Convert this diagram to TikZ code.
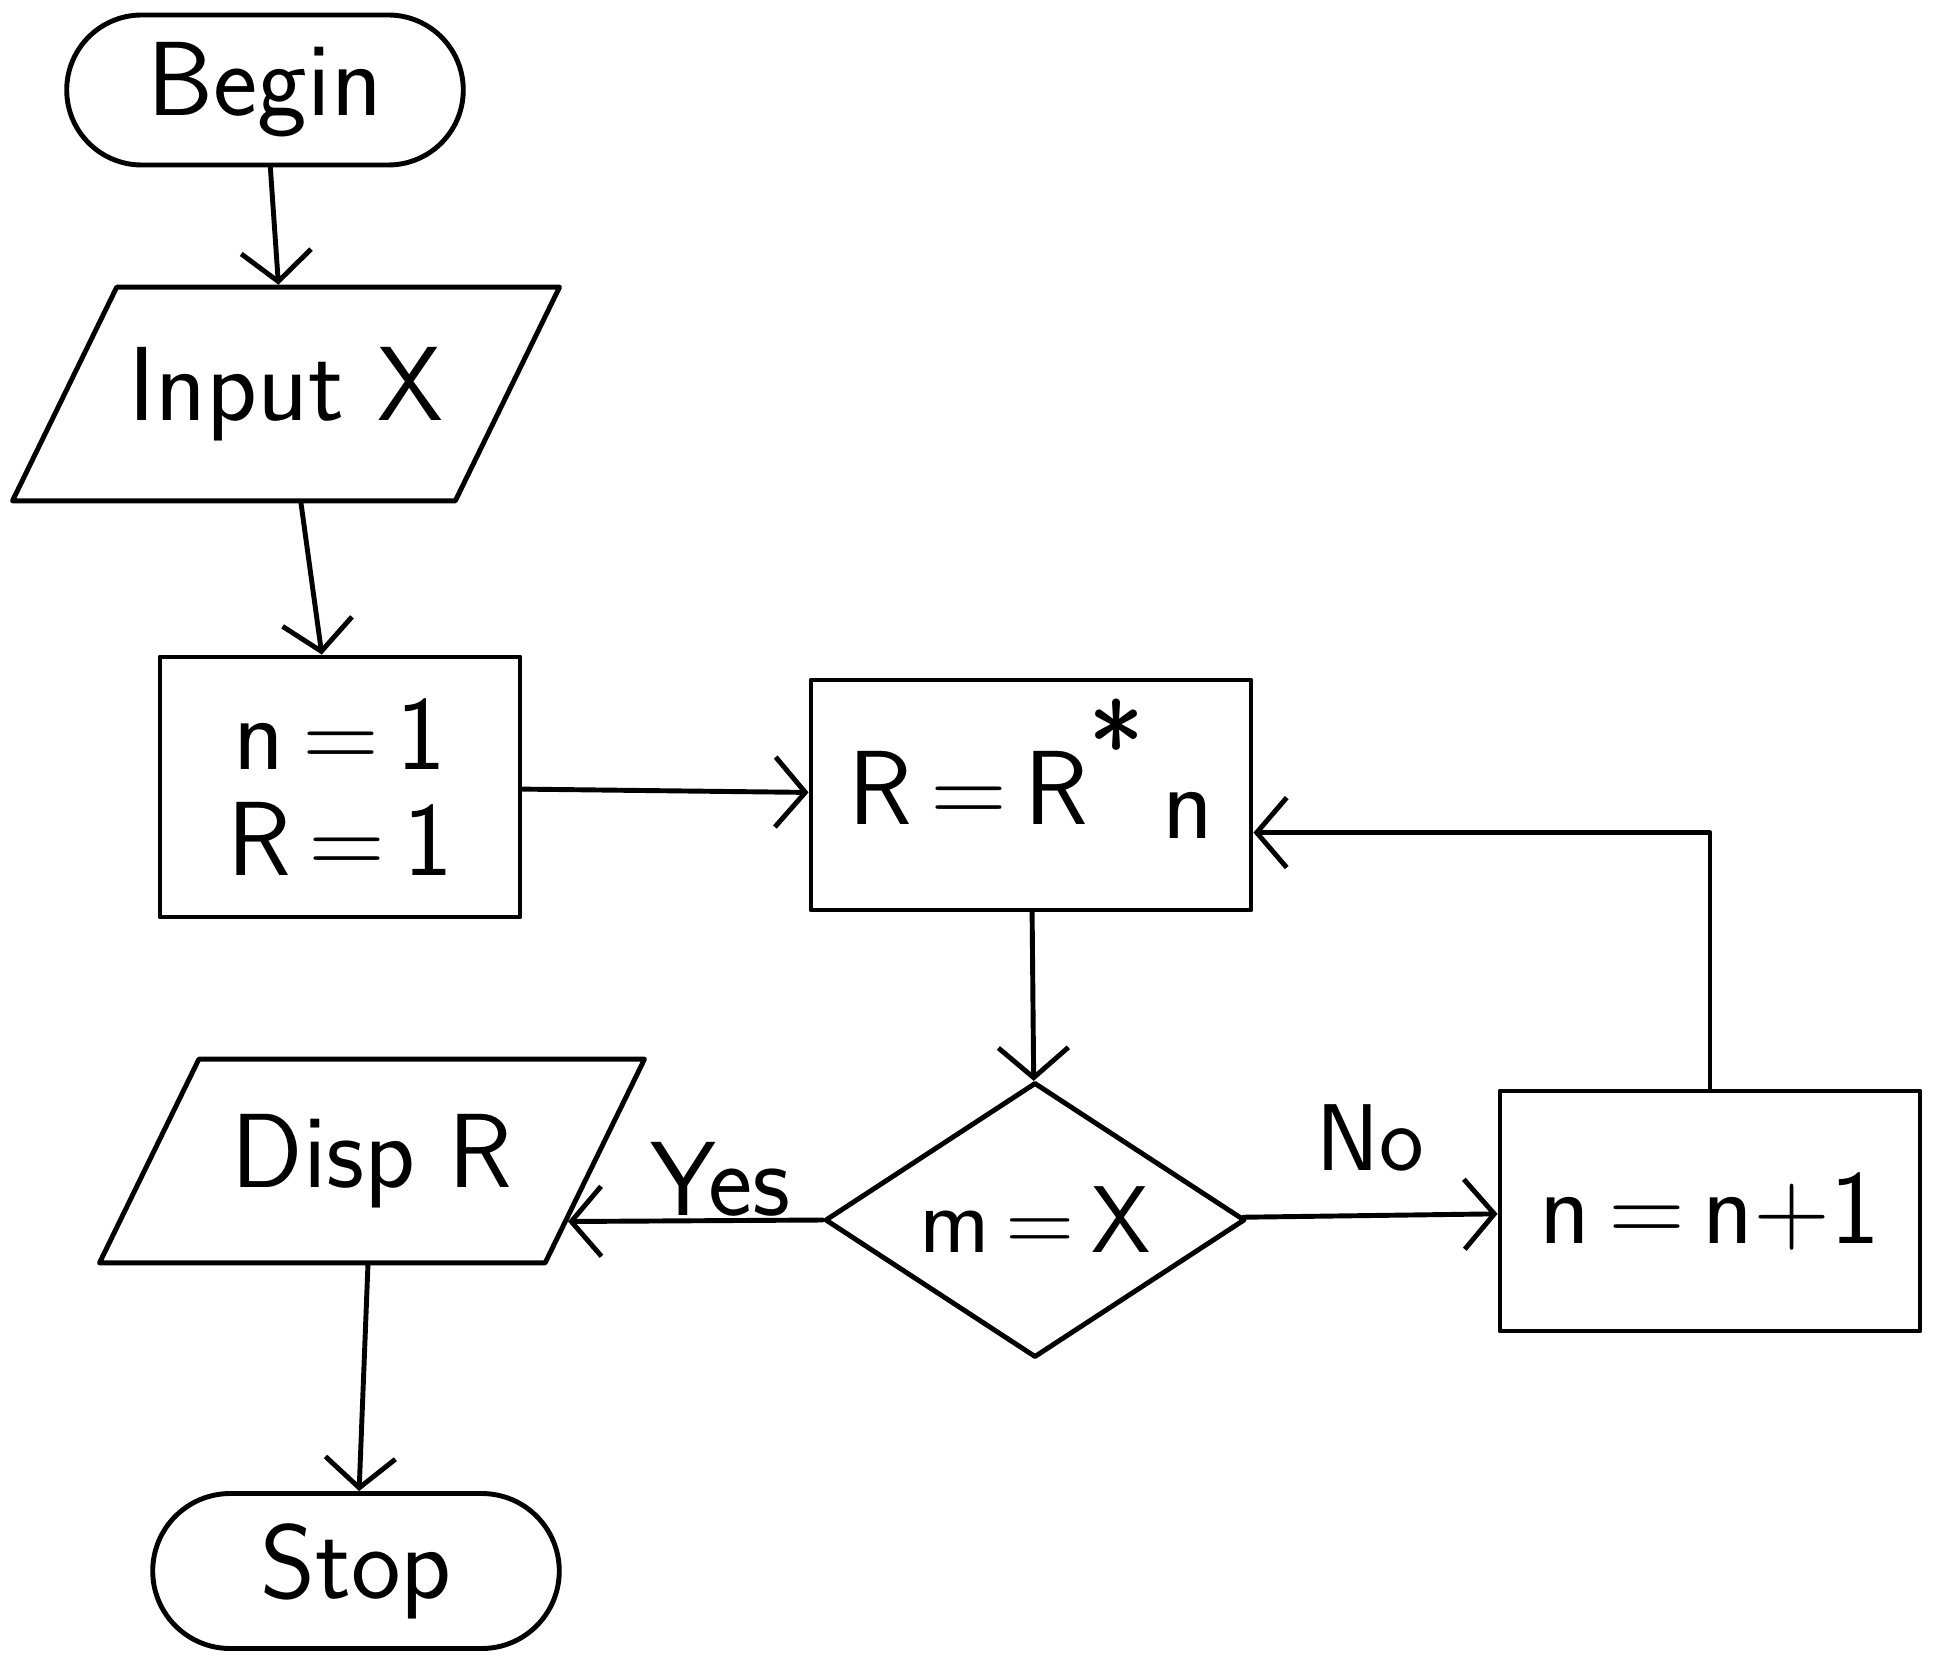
\documentclass[tikz,border=0pt]{standalone}
\usetikzlibrary{shapes.geometric,shapes.misc,arrows.meta,calc}
\newcommand{\hw}{\sffamily\fontsize{30}{30}\selectfont}
\tikzset{
  hand/.style={line width=1.4pt, line cap=round, line join=round},
  term/.style={hand, draw, rounded rectangle, minimum width=4.2cm, minimum height=1.5cm, font=\hw},
  io/.style={hand, draw, trapezium, trapezium left angle=64, trapezium right angle=116,
    trapezium stretches body=true, inner ysep=5.5mm, font=\hw},
  proc/.style={hand, draw, rectangle, align=center, font=\hw},
  decide/.style={hand, draw, diamond, aspect=1.5, inner sep=0pt,
    minimum width=4.2cm, minimum height=2.75cm, font=\sffamily\fontsize{27}{27}\selectfont},
  flow/.style={hand, -{Straight Barb[length=3mm,width=7mm]}},
}
\begin{document}
\begin{tikzpicture}
  \useasboundingbox (0,0) rectangle (19.43,-16.66);
  % shapes
  \node[term] (begin) at (2.65,-0.90) {Begin};
  \node[io, minimum width=5.45cm, inner ysep=6mm] (input) at (2.86,-3.94) {Input X};
  \node[proc, minimum width=3.6cm, minimum height=2.6cm] (init) at (3.40,-7.87) {n\,=\,1\\R\,=\,1};
  \node[proc, minimum width=4.4cm, minimum height=2.3cm] (mult) at (10.31,-7.95)
    {R\,=\,R\raisebox{0.8ex}[0pt][0pt]{\fontsize{34}{34}\selectfont *}\,\raisebox{-0.3ex}{n}};
  \node[decide] (test) at (10.35,-12.20) {m\,=\,X};
  \node[proc, minimum width=4.2cm, minimum height=2.4cm] (incr) at (17.10,-12.11) {n\,=\,n+1};
  \node[io, minimum width=5.45cm] (disp) at (3.72,-11.61) {Disp R};
  \node[term, minimum width=4.3cm, minimum height=1.55cm] (stop) at (3.56,-15.71) {Stop};
  % connectors
  \draw[flow] (begin) -- (input);
  \draw[flow] (input) -- (init);
  \draw[flow] (init) -- (mult);
  \draw[flow] (mult) -- (test);
  \draw[flow] (test) -- node[above=3mm, font=\sffamily\fontsize{27}{27}\selectfont] {No} (incr);
  \draw[flow] (test.west) -- node[pos=0.4, above=-1mm, font=\hw] {Yes}
    ($(disp.bottom right corner)!0.21!(disp.top right corner)$);
  \draw[flow] (incr.north) |- ($(mult.north east)!0.66!(mult.south east)$);
  \draw[flow] (disp) -- (stop);
\end{tikzpicture}
\end{document}
